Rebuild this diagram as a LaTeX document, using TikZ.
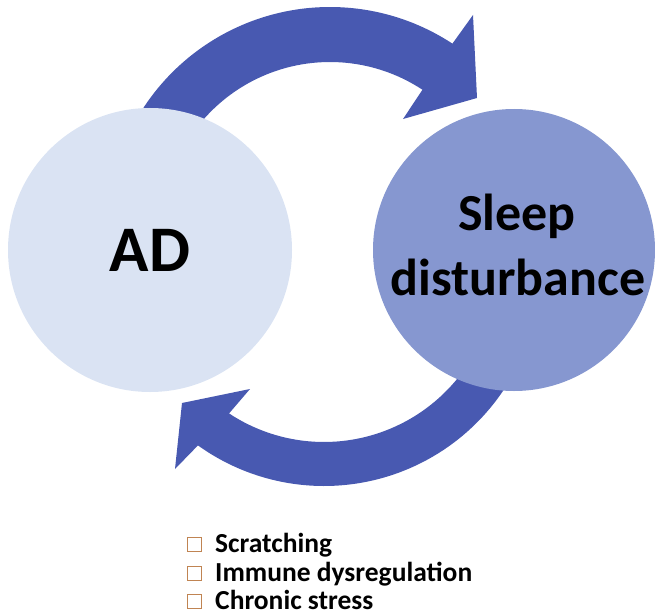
\documentclass[tikz,border=0pt]{standalone}
\usepackage{fontspec}
\setmainfont{Carlito}
\definecolor{arrowblue}{RGB}{72,89,177}
\definecolor{adfill}{RGB}{218,227,243}
\definecolor{sleepfill}{RGB}{134,151,208}
\definecolor{boxbrown}{RGB}{192,132,82}
\begin{document}
\begin{tikzpicture}[x=1pt,y=1pt,
  loopbody/.style={fill=arrowblue},
  bubble/.style={circle, inner sep=0pt},
  lbl/.style={font=\bfseries\fontsize{52}{52}\selectfont, anchor=base, inner sep=0pt},
  item/.style={font=\bfseries\fontsize{27.5}{27.5}\selectfont, anchor=base west, inner sep=0pt},
  tickbox/.style={draw=boxbrown, line width=1.2pt, minimum size=14pt, inner sep=0pt, anchor=south west}
]
\useasboundingbox (0,0) rectangle (655,-615);
% top curved arrow
\fill[loopbody] ([shift={(330,-230)}]155:223pt) arc[start angle=155, end angle=56.7, radius=223pt]
  -- (473,-15) -- (477,-98) -- (403,-119)
  -- ([shift={(330,-230)}]56.6:168pt) arc[start angle=56.6, end angle=155, radius=168pt] -- cycle;
% bottom curved arrow
\fill[loopbody] ([shift={(324,-270)}]335:216pt) arc[start angle=335, end angle=234.3, radius=216pt]
  -- (175,-469) -- (182,-403) -- (250,-389)
  -- ([shift={(324,-270)}]236.5:172pt) arc[start angle=236.5, end angle=335, radius=172pt] -- cycle;
% circles
\node[bubble, fill=adfill, minimum size=284pt, font=\bfseries\fontsize{65}{65}\selectfont] (ad) at (150,-250) {AD};
\node[bubble, fill=sleepfill, minimum size=282pt] (sleep) at (514,-250) {};
\node[lbl] (s1) at (517,-230) {Sleep};
\node[lbl] (s2) at (518,-295) {disturbance};
% list
\node[tickbox] (b1) at (187,-552) {};
\node[tickbox] (b2) at (187,-581) {};
\node[tickbox] (b3) at (187,-609) {};
\node[item] (t1) at (215,-552) {Scratching};
\node[item] (t2) at (215,-581) {Immune dysregulation};
\node[item] (t3) at (215,-609) {Chronic stress};
\end{tikzpicture}
\end{document}
